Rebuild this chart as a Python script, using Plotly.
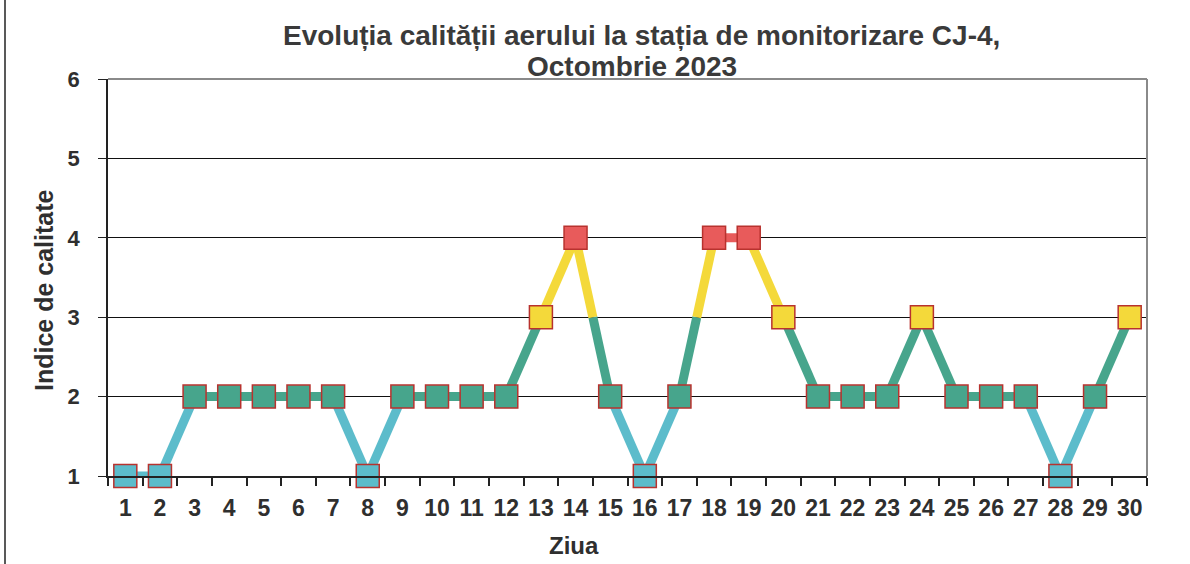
import plotly.graph_objects as go

days = list(range(1, 31))
day_labels = [str(d) for d in days]
index_values = [1, 1, 2, 2, 2, 2, 2, 1, 2, 2, 2, 2, 3, 4, 2, 1, 2, 4, 4, 3, 2, 2, 2, 3, 2, 2, 2, 1, 2, 3]
y_ticks = [1, 2, 3, 4, 5, 6]

level_colors = {1: "#5cbccb", 2: "#47a58c", 3: "#f4d93a", 4: "#e85b5b"}

title_lines = ["Evoluția calității aerului la stația de monitorizare CJ-4,", "Octombrie 2023"]
x_title = "Ziua"
y_title = "Indice de calitate"

FONT = "Liberation Sans, Arial, sans-serif"
TXT = "#2f2f2f"

L, R, T, B = 108, 43, 79, 88
W, H = 1190, 564
PW, PH = W - L - R, H - T - B

# Build line pieces, coloured by the y band they lie in
pieces = {k: ([], []) for k in level_colors}
for i in range(len(days) - 1):
    x0, y0 = days[i], index_values[i]
    x1, y1 = days[i + 1], index_values[i + 1]
    if y0 == y1:
        xs, ys = pieces[y0]
        xs += [x0, x1, None]
        ys += [y0, y1, None]
        continue
    lo, hi = min(y0, y1), max(y0, y1)
    for k in range(lo, hi):
        ta = (k - y0) / (y1 - y0)
        tb = (k + 1 - y0) / (y1 - y0)
        xa, xb = x0 + ta * (x1 - x0), x0 + tb * (x1 - x0)
        xs, ys = pieces[k]
        xs += [xa, xb, None]
        ys += [k, k + 1, None]

fig = go.Figure()
for k, (xs, ys) in pieces.items():
    if xs:
        fig.add_trace(go.Scatter(
            x=xs, y=ys, mode="lines",
            line=dict(color=level_colors[k], width=9),
            cliponaxis=False, hoverinfo="skip", showlegend=False,
        ))

fig.add_trace(go.Scatter(
    x=days, y=index_values, mode="markers",
    marker=dict(symbol="square", size=23,
                color=[level_colors[v] for v in index_values],
                line=dict(color="#b8322e", width=1.5)),
    cliponaxis=False, showlegend=False,
))

fig.update_layout(
    width=W, height=H,
    margin=dict(l=L, r=R, t=T, b=B),
    paper_bgcolor="white", plot_bgcolor="white",
    font=dict(family=FONT, color=TXT),
    shapes=[dict(type="line", xref="paper", yref="paper", x0=1, x1=1, y0=0, y1=1,
                 line=dict(color="#8a8a8a", width=2)),
            dict(type="line", xref="paper", yref="paper", x0=0, x1=1, y0=1, y1=1,
                 line=dict(color="#8a8a8a", width=2)),
            dict(type="line", xref="paper", yref="paper",
                 x0=-(L - 5) / PW, x1=-(L - 5) / PW, y0=-B / PH, y1=1 + T / PH,
                 line=dict(color="#222222", width=1.5))],
)
for line_text, cy, cx in zip(title_lines, [35, 67], [641, 632]):
    fig.add_annotation(text=line_text, x=(cx - L) / PW, xref="paper", xanchor="center",
                       y=1 + (T - cy) / PH, yref="paper", yanchor="middle",
                       showarrow=False,
                       font=dict(size=28, family=FONT, color="#3a3a3a", weight="bold"))
fig.add_annotation(text=x_title, x=(574 - L) / PW, xref="paper", xanchor="center",
                   y=-(545 - (H - B)) / PH, yref="paper", yanchor="middle",
                   showarrow=False, font=dict(size=24, family=FONT, color=TXT, weight="bold"))
fig.add_annotation(text=y_title, x=-(L - 44) / PW, xref="paper",
                   xanchor="center", y=((H - B) - 290) / PH, yref="paper", yanchor="middle",
                   textangle=-90, showarrow=False,
                   font=dict(size=25, family=FONT, color=TXT, weight="bold"))

fig.update_xaxes(
    range=[0.5, 30.5], tickmode="array", tickvals=days, ticktext=day_labels,
    ticks="", showgrid=False, zeroline=False, automargin=False,
    showline=True, linecolor="#222222", linewidth=1.5,
    tickfont=dict(size=23, family=FONT, color=TXT, weight="bold"),
    ticklabelstandoff=11,
    minor=dict(tick0=0.5, dtick=1, ticks="outside", ticklen=8, tickwidth=1.5,
               tickcolor="#222222", showgrid=False),
)
fig.update_yaxes(
    range=[1, 6], tickmode="array", tickvals=y_ticks, automargin=False,
    ticks="outside", ticklen=8, tickwidth=1.2, tickcolor="#222222",
    showgrid=True, gridcolor="#111111", gridwidth=1,
    zeroline=False, showline=True, linecolor="#222222", linewidth=1.5,
    tickfont=dict(size=22, family=FONT, color=TXT, weight="bold"),
    ticklabelstandoff=14,
)

fig.write_html("out.html", config={"displayModeBar": False},
               post_script="document.body.style.margin='0';")
